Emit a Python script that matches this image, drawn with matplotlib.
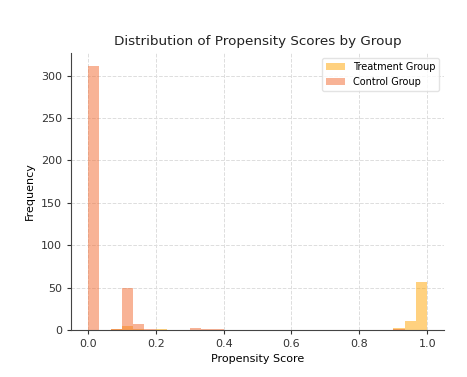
import numpy as np
import matplotlib.pyplot as plt

# 30 equal bins over [0, 1]
edges = np.linspace(0, 1, 31)
centers = (edges[:-1] + edges[1:]) / 2

# counts, per bin
treatment_counts = [0, 0, 1, 4, 1, 0, 1, 0, 0, 0,
                    0, 0, 0, 0, 0, 0, 0, 0, 0, 0,
                    0, 0, 0, 0, 0, 0, 0, 2, 11, 57]
control_counts = [311, 0, 1, 50, 7, 1, 0, 0, 0, 2,
                  1, 1, 0, 0, 0, 0, 0, 0, 0, 0,
                  0, 0, 0, 0, 0, 0, 0, 1, 0, 0]

fig = plt.figure(figsize=(4.67, 3.77), dpi=100)
ax = fig.add_axes([0.152, 0.125, 0.799, 0.734])

ax.hist(centers, bins=edges, weights=treatment_counts, color='#FFA500', alpha=0.5,
        label='Treatment Group')
ax.hist(centers, bins=edges, weights=control_counts, color='#F2692E', alpha=0.5,
        label='Control Group')

ax.set_title('Distribution of Propensity Scores by Group', fontsize=9.7, color='#222222')
ax.set_xlabel('Propensity Score', fontsize=8)
ax.set_ylabel('Frequency', fontsize=8)
ax.tick_params(labelsize=8, colors='#333333', length=3)
ax.set_xticks([0.0, 0.2, 0.4, 0.6, 0.8, 1.0])
ax.set_yticks([0, 50, 100, 150, 200, 250, 300])
ax.grid(True, linestyle='--', color='#dddddd', linewidth=0.7)
ax.set_axisbelow(True)
for s in ['top', 'right']:
    ax.spines[s].set_visible(False)
for s in ['left', 'bottom']:
    ax.spines[s].set_color('#444444')
ax.legend(loc='upper right', fontsize=7, frameon=True, edgecolor='#dddddd')

plt.savefig('out.png', dpi=100)
